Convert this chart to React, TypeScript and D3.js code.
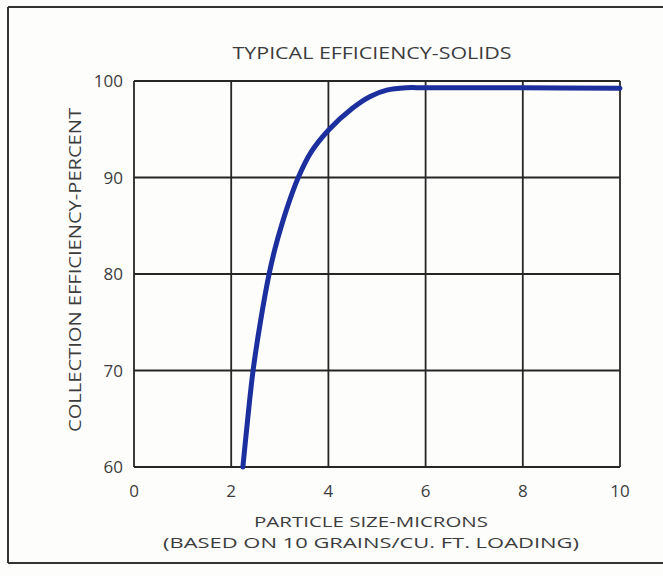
import React from "react";
import * as d3 from "d3";

const sizeMicrons = [2.24, 2.34, 2.45, 2.6, 2.78, 2.9, 3.04, 3.2, 3.38, 3.64, 4.0, 4.5, 4.86, 5.2, 5.6, 6.0, 8.0, 10.0];
const efficiency = [60, 65, 70, 75, 80, 82.6, 85.1, 87.6, 90, 92.6, 94.9, 97.2, 98.4, 99.05, 99.3, 99.3, 99.3, 99.25];
const xTicks = [0, 2, 4, 6, 8, 10];
const yTicks = [60, 70, 80, 90, 100];

const W = 663;
const H = 576;
const FONT = "'Open Sans', Lato, sans-serif";

export default function App() {
  const x = d3.scaleLinear().domain([0, 10]).range([134, 620]);
  const y = d3.scaleLinear().domain([60, 100]).range([467, 81]);
  const pts: [number, number][] = sizeMicrons.map((s, i) => [s, efficiency[i]]);
  const line = d3
    .line<[number, number]>()
    .x((d) => x(d[0]))
    .y((d) => y(d[1]))
    .curve(d3.curveCatmullRom.alpha(0.5));

  const gridColor = "#262626";
  const textColor = "#3c3c3c";

  return (
    <svg
      width={W}
      height={H}
      style={{ position: "fixed", left: 0, top: 0, background: "#fff" }}
    >
      <rect x={0} y={0} width={W} height={H} fill="#fdfdfc" />
      {/* outer frame */}
      <line x1={8} y1={7} x2={W} y2={7} stroke="#333" strokeWidth={2} />
      <line x1={8} y1={7} x2={8} y2={563} stroke="#333" strokeWidth={2} />
      <line x1={8} y1={563} x2={W} y2={563} stroke="#333" strokeWidth={2} />

      {/* grid */}
      {xTicks.map((t) => (
        <line key={"gx" + t} x1={x(t)} x2={x(t)} y1={y(100)} y2={y(60)} stroke={gridColor} strokeWidth={1.8} />
      ))}
      {yTicks.map((t) => (
        <line key={"gy" + t} x1={x(0)} x2={x(10)} y1={y(t)} y2={y(t)} stroke={gridColor} strokeWidth={1.8} />
      ))}

      {/* curve */}
      <path d={line(pts) || ""} fill="none" stroke="#1b2f9e" strokeWidth={5} strokeLinecap="round" strokeLinejoin="round" />

      {/* tick labels */}
      {xTicks.map((t) => (
        <text key={"tx" + t} x={x(t)} y={497} textAnchor="middle" fontFamily={FONT} fontSize={17} fill={textColor}>
          {t}
        </text>
      ))}
      {yTicks.map((t) => (
        <text key={"ty" + t} x={123} y={y(t) + 6} textAnchor="end" fontFamily={FONT} fontSize={17} fill={textColor}>
          {t}
        </text>
      ))}

      {/* titles */}
      <text x={372} y={59} textAnchor="middle" fontFamily={FONT} fontSize={16} fill={textColor} textLength={279} lengthAdjust="spacingAndGlyphs">
        TYPICAL EFFICIENCY-SOLIDS
      </text>
      <text
        transform={`translate(81,270) rotate(-90)`}
        textAnchor="middle"
        fontFamily={FONT}
        fontSize={16}
        fill={textColor}
        textLength={324}
        lengthAdjust="spacingAndGlyphs"
      >
        COLLECTION EFFICIENCY-PERCENT
      </text>
      <text x={371} y={527} textAnchor="middle" fontFamily={FONT} fontSize={15} fill={textColor} textLength={234} lengthAdjust="spacingAndGlyphs">
        PARTICLE SIZE-MICRONS
      </text>
      <text x={371} y={548} textAnchor="middle" fontFamily={FONT} fontSize={15} fill={textColor} textLength={416} lengthAdjust="spacingAndGlyphs">
        (BASED ON 10 GRAINS/CU. FT. LOADING)
      </text>
    </svg>
  );
}
